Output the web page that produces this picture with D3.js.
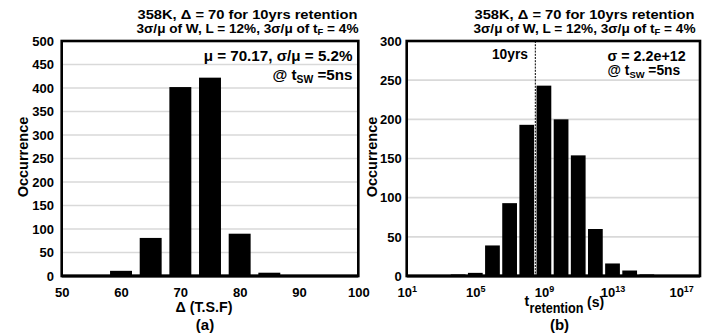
<!DOCTYPE html>
<html><head><meta charset="utf-8">
<script src="https://cdn.jsdelivr.net/npm/d3@7"></script>
<style>
body{margin:0;background:#fff}
text{font-family:"Liberation Sans",Arial,Helvetica,sans-serif;font-weight:bold;fill:#000}
</style>
</head><body>
<svg id="c" width="712" height="335"></svg>
<script>
// ---- data ----
const deltaBins = [55, 60, 65, 70, 75, 80, 85, 90, 95];
const deltaCounts = [0, 11, 81, 402, 422, 90, 7, 0, 0];
const deltaXTicks = [50, 60, 70, 80, 90, 100];
const deltaYTicks = [0, 50, 100, 150, 200, 250, 300, 350, 400, 450, 500];

const retentionExp = [4, 5, 6, 7, 8, 9, 10, 11, 12, 13, 14, 15];
const retentionCounts = [2, 4, 39, 93, 193, 243, 200, 154, 60, 16, 7, 2];
const retentionXTickExp = [1, 5, 9, 13, 17];
const retentionYTicks = [0, 50, 100, 150, 200, 250, 300];
const tenYearsSeconds = 3.1536e8;

const titleLine1 = "358K, \u0394 = 70 for 10yrs retention";
const annotA = "\u03bc = 70.17, \u03c3/\u03bc = 5.2%";
const annotB = "\u03c3 = 2.2e+12";

// ---- drawing ----
const svg = d3.select("#c");
const TOP = 41, BOT = 276;

function title(cx) {
  svg.append("text").attr("x", cx).attr("y", 18.5).attr("text-anchor", "middle")
    .attr("textLength", 220).attr("lengthAdjust", "spacingAndGlyphs")
    .style("font-size", "13.6px").text(titleLine1);
  const t = svg.append("text").attr("x", cx).attr("y", 32.6).attr("text-anchor", "middle")
    .attr("textLength", 222).attr("lengthAdjust", "spacingAndGlyphs")
    .style("font-size", "12.3px");
  t.append("tspan").text("3\u03c3/\u03bc of W, L = 12%, 3\u03c3/\u03bc of t");
  t.append("tspan").attr("dy", 2.2).style("font-size", "8.5px").text("F");
  t.append("tspan").attr("dy", -2.2).text(" = 4%");
}
function tsw(x, y, fs, anchor) {
  const t = svg.append("text").attr("x", x).attr("y", y).attr("text-anchor", anchor)
    .style("font-size", fs + "px");
  t.append("tspan").text("@ t");
  t.append("tspan").attr("dy", 3).style("font-size", (fs * 0.68) + "px").text("SW");
  t.append("tspan").attr("dy", -3).text(" =5ns");
}
function grid(g, y, ticks, x0, x1) {
  g.selectAll("line.grid").data(ticks.filter((d, i) => i > 0 && i < ticks.length - 1))
    .join("line").attr("class", "grid")
    .attr("x1", x0).attr("x2", x1).attr("y1", d => y(d)).attr("y2", d => y(d))
    .attr("stroke", "#d9d9d9").attr("stroke-width", 1.6);
}
function frame(x0, x1) {
  svg.append("rect").attr("x", x0).attr("y", TOP).attr("width", x1 - x0).attr("height", BOT - TOP)
    .attr("fill", "none").attr("stroke", "#000").attr("stroke-width", 2.6);
  svg.append("line").attr("x1", x0).attr("x2", x1).attr("y1", BOT).attr("y2", BOT)
    .attr("stroke", "#000").attr("stroke-width", 3);
}
function styleAxis(g, fs) {
  g.select(".domain").remove();
  g.attr("font-size", fs).attr("font-family", '"Liberation Sans",Arial,sans-serif');
  g.selectAll("text").attr("fill", "#000").style("font-size", fs + "px").style("font-weight", "bold");
}

// ===== Panel (a) =====
const xa = d3.scaleLinear().domain([50, 100]).range([61.7, 358.3]);
const ya = d3.scaleLinear().domain([0, 500]).range([BOT, TOP]);
const ga = svg.append("g");
grid(ga, ya, deltaYTicks, 61.7, 358.3);
ga.selectAll("rect.bar").data(deltaBins.map((b, i) => ({b, c: deltaCounts[i]})).filter(d => d.c > 0))
  .join("rect").attr("class", "bar")
  .attr("x", d => xa(d.b - 1.85)).attr("width", d => xa(d.b + 1.85) - xa(d.b - 1.85))
  .attr("y", d => ya(d.c)).attr("height", d => ya(0) - ya(d.c)).attr("fill", "#000");
frame(61.7, 358.3);
const axA = svg.append("g").attr("transform", `translate(61.7,0)`)
  .call(d3.axisLeft(ya).tickValues(deltaYTicks).tickSize(0).tickPadding(7.7));
styleAxis(axA, 13);
const axAx = svg.append("g").attr("transform", `translate(0,${BOT})`)
  .call(d3.axisBottom(xa).tickValues(deltaXTicks).tickSize(0).tickPadding(11.5));
styleAxis(axAx, 13);
svg.append("text").attr("transform", "translate(28.3,157) rotate(-90)").attr("text-anchor", "middle")
  .style("font-size", "14.5px").text("Occurrence");
svg.append("text").attr("x", 204).attr("y", 311.7).attr("text-anchor", "middle")
  .style("font-size", "14.3px").text("\u0394 (T.S.F)");
svg.append("text").attr("x", 205).attr("y", 330).attr("text-anchor", "middle")
  .style("font-size", "15px").text("(a)");
title(247.5);
svg.append("text").attr("x", 352.5).attr("y", 60.5).attr("text-anchor", "end")
  .style("font-size", "15.2px").text(annotA);
tsw(352.5, 80, 15.2, "end");

// ===== Panel (b) =====
const xb = d3.scaleLog().domain([1e1, Math.pow(10, 18.1)]).range([406.7, 700]);
const yb = d3.scaleLinear().domain([0, 300]).range([BOT, TOP]);
const gb = svg.append("g");
grid(gb, yb, retentionYTicks, 406.7, 700);
gb.append("line").attr("x1", xb(tenYearsSeconds)).attr("x2", xb(tenYearsSeconds))
  .attr("y1", TOP).attr("y2", BOT).attr("stroke", "#000").attr("stroke-width", 1)
  .attr("stroke-dasharray", "2,1.2");
gb.selectAll("rect.bar").data(retentionExp.map((e, i) => ({e, c: retentionCounts[i]})))
  .join("rect").attr("class", "bar")
  .attr("x", d => xb(Math.pow(10, d.e - 0.43)))
  .attr("width", d => xb(Math.pow(10, d.e + 0.43)) - xb(Math.pow(10, d.e - 0.43)))
  .attr("y", d => yb(d.c)).attr("height", d => yb(0) - yb(d.c)).attr("fill", "#000");
frame(406.7, 700);
const axB = svg.append("g").attr("transform", `translate(406.7,0)`)
  .call(d3.axisLeft(yb).tickValues(retentionYTicks).tickSize(0).tickPadding(5));
styleAxis(axB, 13);
const axBx = svg.append("g").attr("transform", `translate(0,${BOT})`)
  .call(d3.axisBottom(xb).tickValues(retentionXTickExp.map(e => Math.pow(10, e))).tickSize(0).tickPadding(11.5)
    .tickFormat(() => ""));
styleAxis(axBx, 13);
axBx.selectAll(".tick text").each(function(d, i) {
  const t = d3.select(this);
  t.append("tspan").text("10");
  t.append("tspan").attr("dy", "-0.5em").style("font-size", "9px").text(retentionXTickExp[i]);
});
svg.append("text").attr("transform", "translate(377,157) rotate(-90)").attr("text-anchor", "middle")
  .style("font-size", "14.5px").text("Occurrence");
const xl = svg.append("text").style("font-size", "14px");
xl.append("tspan").attr("x", 524.5).attr("y", 306).text("t");
xl.append("tspan").attr("x", 529.5).attr("y", 313.3).attr("textLength", 54).attr("lengthAdjust", "spacingAndGlyphs").text("retention");
xl.append("tspan").attr("x", 587).attr("y", 307).text("(s)");
svg.append("text").attr("x", 559.5).attr("y", 330).attr("text-anchor", "middle")
  .style("font-size", "15px").text("(b)");
title(584.5);
svg.append("text").attr("x", 528).attr("y", 59).attr("text-anchor", "end")
  .style("font-size", "13.8px").text("10yrs");
svg.append("text").attr("x", 607.5).attr("y", 60.5).attr("text-anchor", "start")
  .style("font-size", "14.3px").text(annotB);
tsw(607.5, 74.5, 13.8, "start");
</script>
</body></html>
